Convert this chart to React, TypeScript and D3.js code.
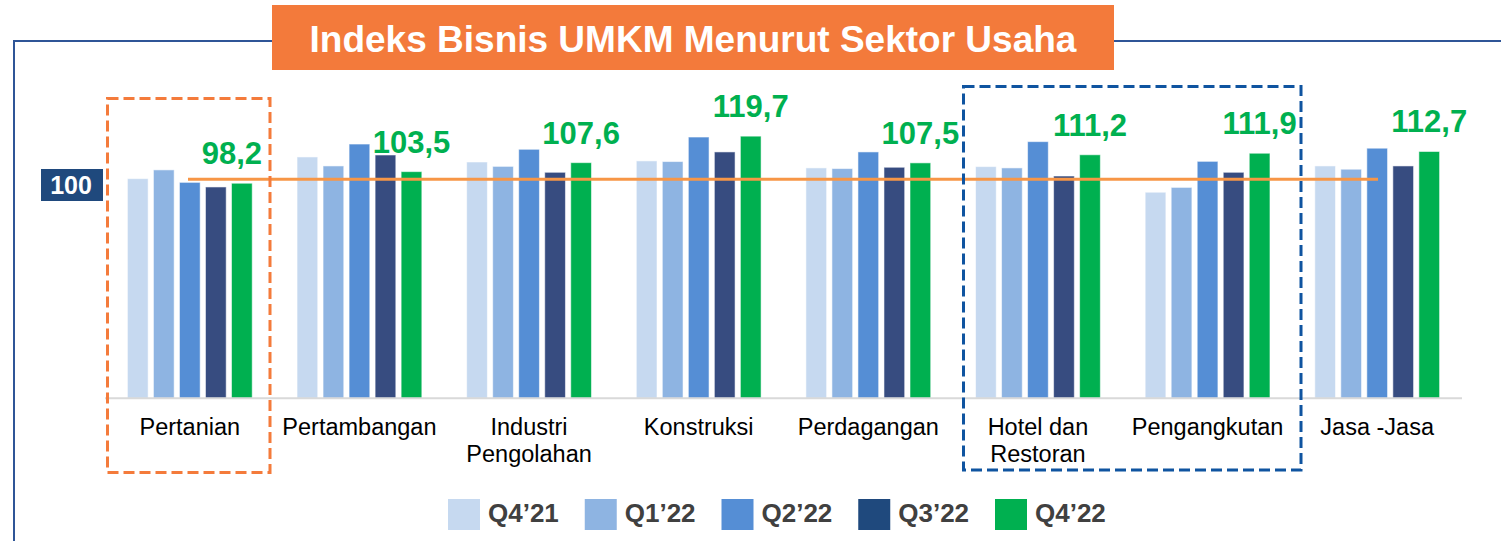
import * as d3 from "d3";
import { useEffect, useRef } from "react";

const categories = [
    ["Pertanian"],
    ["Pertambangan"],
    ["Industri", "Pengolahan"],
    ["Konstruksi"],
    ["Perdagangan"],
    ["Hotel dan", "Restoran"],
    ["Pengangkutan"],
    ["Jasa -Jasa"],
];

const seriesNames = ["Q4\u201921", "Q1\u201922", "Q2\u201922", "Q3\u201922", "Q4\u201922"];

const q421 = [100.3, 110.2, 107.9, 108.4, 105.2, 105.8, 94.1, 106.1];
const q122 = [104.3, 106.1, 105.9, 108.1, 104.9, 105.2, 96.3, 104.6];
const q222 = [98.6, 116.1, 113.7, 119.3, 112.5, 117.2, 108.2, 114.2];
const q322 = [96.5, 111.1, 103.2, 112.5, 105.5, 101.5, 103.2, 106.1];
const q422 = [98.2, 103.5, 107.6, 119.7, 107.5, 111.2, 111.9, 112.7];

const barColors = ["#C6D9F0", "#8EB4E2", "#558ED5", "#374C80", "#00B050"];
const legendColors = ["#C6D9F0", "#8EB4E2", "#558ED5", "#1F497D", "#00B050"];

const title = "Indeks Bisnis UMKM Menurut Sektor Usaha";
const baseValue = 100;

export default function App() {
    const svgRef = useRef<SVGSVGElement | null>(null);

    useEffect(() => {
        if (!svgRef.current) return;
        const svg = d3.select(svgRef.current);
        svg.selectAll("*").remove();

        const series = [q421, q122, q222, q322, q422];
        const font = "Arial, 'Liberation Sans', sans-serif";

        // outer frame line
        svg.append("line")
            .attr("x1", 14).attr("x2", 1501)
            .attr("y1", 41).attr("y2", 41)
            .attr("stroke", "#2F5597").attr("stroke-width", 2);
        svg.append("line")
            .attr("x1", 14).attr("x2", 14)
            .attr("y1", 40).attr("y2", 541)
            .attr("stroke", "#2F5597").attr("stroke-width", 2);

        // title
        svg.append("rect")
            .attr("x", 272).attr("y", 5)
            .attr("width", 842).attr("height", 65)
            .attr("fill", "#F37A3B");
        svg.append("text")
            .attr("x", 693).attr("y", 52)
            .attr("text-anchor", "middle")
            .attr("font-family", font)
            .attr("font-weight", "bold")
            .attr("font-size", 37)
            .attr("fill", "#fff")
            .text(title);

        const x0 = d3
            .scaleBand<number>()
            .domain(d3.range(categories.length))
            .range([105, 1462]);

        const groupW = 124.8;
        const x1 = d3
            .scaleBand<number>()
            .domain(d3.range(seriesNames.length))
            .range([0, groupW])
            .paddingInner(0.204);

        const y = d3.scaleLinear().domain([0, 100]).range([398.3, 179.3]);

        const groupX = (i: number) => x0(i)! + (x0.bandwidth() - groupW) / 2;

        // bars
        series.forEach((vals, s) => {
            svg.append("g")
                .selectAll("rect")
                .data(vals)
                .join("rect")
                .attr("x", (_, i) => groupX(i) + x1(s)!)
                .attr("y", (d) => y(d))
                .attr("width", x1.bandwidth())
                .attr("height", (d) => y(0) - y(d))
                .attr("fill", barColors[s])
                .attr("stroke", "rgba(255,255,255,0.55)")
                .attr("stroke-width", 1);
        });

        // axis baseline
        svg.append("line")
            .attr("x1", x0.range()[0]).attr("x2", x0.range()[1])
            .attr("y1", y(0)).attr("y2", y(0))
            .attr("stroke", "#D9D9D9").attr("stroke-width", 2);

        // 100 reference line
        svg.append("line")
            .attr("x1", 188).attr("x2", 1378)
            .attr("y1", y(baseValue)).attr("y2", y(baseValue))
            .attr("stroke", "#F79646").attr("stroke-width", 3);

        svg.append("rect")
            .attr("x", 41).attr("y", 169)
            .attr("width", 62).attr("height", 32)
            .attr("fill", "#1F497D");
        svg.append("text")
            .attr("x", 71).attr("y", 194)
            .attr("text-anchor", "middle")
            .attr("font-family", font)
            .attr("font-weight", "bold")
            .attr("font-size", 25)
            .attr("fill", "#fff")
            .text(String(baseValue));

        // highlight box edges
        const orangeBox = { x: 107.5, y: 98.5, w: 162.5, h: 374 };

        // value labels for Q4'22
        svg.append("g")
            .selectAll("text")
            .data(q422)
            .join("text")
            .attr("x", (_, i) => groupX(i) + x1(4)! + x1.bandwidth() / 2)
            .attr("y", (d) => y(d) - 19)
            .attr("text-anchor", "middle")
            .attr("font-family", font)
            .attr("font-weight", "bold")
            .attr("font-size", 31)
            .attr("fill", "#00B050")
            .text((d) => d.toFixed(1).replace(".", ","))
            .each(function (_, i) {
                // keep the first label inside the dashed box
                if (i !== 0) return;
                const el = this as SVGTextElement;
                const half = el.getComputedTextLength() / 2;
                const cx = +el.getAttribute("x")!;
                const maxX = orangeBox.x + orangeBox.w - 8 - half;
                if (cx > maxX) el.setAttribute("x", String(maxX));
            });

        // category labels
        const cat = svg.append("g")
            .selectAll("text")
            .data(categories)
            .join("text")
            .attr("text-anchor", "middle")
            .attr("font-family", font)
            .attr("font-size", 23.5)
            .attr("fill", "#000");
        cat.each(function (lines, i) {
            d3.select(this)
                .selectAll("tspan")
                .data(lines)
                .join("tspan")
                .attr("x", x0(i)! + x0.bandwidth() / 2)
                .attr("y", (_, j) => 435 + j * 26.7)
                .text((d) => d);
        });

        // highlight boxes
        svg.append("rect")
            .attr("x", orangeBox.x).attr("y", orangeBox.y)
            .attr("width", orangeBox.w).attr("height", orangeBox.h)
            .attr("fill", "none")
            .attr("stroke", "#F47B3B")
            .attr("stroke-width", 3)
            .attr("stroke-dasharray", "11,5");
        svg.append("rect")
            .attr("x", 963.5).attr("y", 86.5)
            .attr("width", 337.5).attr("height", 383.5)
            .attr("fill", "none")
            .attr("stroke", "#0F54A0")
            .attr("stroke-width", 3)
            .attr("stroke-dasharray", "11,5");

        // legend
        const lx = d3
            .scalePoint<number>()
            .domain(d3.range(seriesNames.length))
            .range([448, 995]);
        const leg = svg.append("g")
            .selectAll("g")
            .data(seriesNames)
            .join("g")
            .attr("transform", (_, i) => `translate(${lx(i)},499)`);
        leg.append("rect")
            .attr("width", 32).attr("height", 31)
            .attr("fill", (_, i) => legendColors[i]);
        leg.append("text")
            .attr("x", 40).attr("y", 23)
            .attr("font-family", font)
            .attr("font-weight", "bold")
            .attr("font-size", 26)
            .attr("fill", "#404040")
            .text((d) => d);
    }, []);

    return (
        <svg
            ref={svgRef}
            width={1501}
            height={541}
            style={{ position: "absolute", left: 0, top: 0, background: "#fff" }}
        />
    );
}
